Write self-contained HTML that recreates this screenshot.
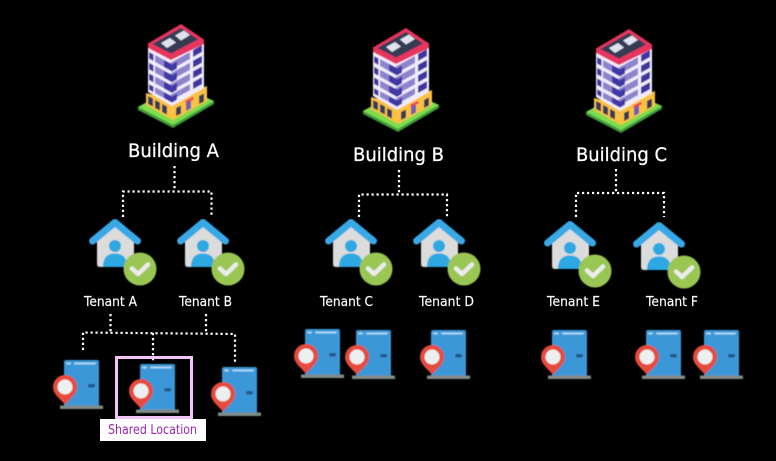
<!DOCTYPE html>
<html lang="en">
<head>
<meta charset="utf-8">
<title>Buildings, tenants and locations</title>
<style>
html,body{margin:0;padding:0;background:#000;width:776px;height:461px;overflow:hidden}
svg{display:block}
text{font-family:"DejaVu Sans","Liberation Sans",sans-serif;fill:#fff}
.b{font-size:19px;stroke:#fff;stroke-width:.25}
.t{font-size:13px;stroke:#fff;stroke-width:.15}
.d{fill:none;stroke:#fff;stroke-width:2.2;stroke-dasharray:2.2 2.8}
</style>
</head>
<body>
<svg width="776" height="461" viewBox="0 0 776 461" xmlns="http://www.w3.org/2000/svg">
<defs>
<filter id="s" x="-5%" y="-5%" width="110%" height="110%"><feGaussianBlur stdDeviation="0.4"/></filter>
<g id="bld" filter="url(#s)">
  <path d="M138 107L178 85L214 101V104L173 128L138 110Z" fill="#3f9a3a"/>
  <path d="M138 107L178 85L214 101L173 125Z" fill="#7ddc4f"/>
  <path d="M146 93L146 105L173 120L207 101V86L173 100Z" fill="#fdc13f"/>
  <path d="M148 43V92L172 106L204 88V40L172 58Z" fill="#f0ecfb"/>
  <g fill="#3f35a0">
    <path d="M149 52l4.500 2.500v6.500l-4.500-2.500z M149 62.700l4.500 2.500v6.500l-4.500-2.500z M149 73.400l4.500 2.500v6.500l-4.500-2.500z M149 84.100l4.500 2.500v5.500l-4.500-2.500z"/>
    <path d="M193 50l9-5v7l-9 5z M193 60.700l9-5v7l-9 5z M193 71.400l9-5v7l-9 5z M193 82.100l9-5v7l-9 5z"/>
  </g>
  <g fill="#8d84cc">
    <path d="M155 55l15 8 20-11v7l-20 11-15-8z"/>
    <path d="M155 65.700l15 8 20-11v7l-20 11-15-8z"/>
    <path d="M155 76.400l15 8 20-11v7l-20 11-15-8z"/>
    <path d="M155 87.100l15 8 20-11v6l-20 11-15-8z"/>
  </g>
  <g fill="#4037a5">
    <path d="M164 60l8 4.500 5-3v7l-5 3-8-4.500z"/>
    <path d="M164 70.700l8 4.500 5-3v7l-5 3-8-4.500z"/>
    <path d="M164 81.400l8 4.500 5-3v7l-5 3-8-4.500z"/>
    <path d="M164 92.100l8 4.500 5-3v6l-5 3-8-4.500z"/>
  </g>
  <path d="M148 43.500L181 24L204 39.500V44L171 60L148 48Z" fill="#e8345f"/>
  <path d="M152.500 44L181 28L198 39.500L171 53.500Z" fill="#363a52"/>
  <path d="M161 43L170 38L176 42.500L167 48Z" fill="#dfe3ee"/>
  <path d="M175 35.500L184 30.500L190 35L181 40.500Z" fill="#dfe3ee"/>
  <g fill="#353a58">
    <path d="M148 96l5 2.500v8l-5-2.500z M155 100l5 2.500v8l-5-2.500z M162 104l5 2.500v8l-5-2.500z"/>
    <path d="M176 108l5-2.500v8l-5 2.500z M199 96l5-2.500v8l-5 2.500z"/>
  </g>
  <path d="M186 103l5-2.500v8l-5 2.500z" fill="#6a5fb0"/>
  <path d="M185 101l8-4 1 2-8 4z" fill="#e8345f"/>
</g>
<g id="home" filter="url(#s)">
  <path d="M97 241L115 226L134 241V264Q134 267 131 267H100Q97 267 97 264Z" fill="#dcdcdc"/>
  <path d="M92.500 241L115 222.500L137.500 241" fill="none" stroke="#39a9e6" stroke-width="7" stroke-linecap="round" stroke-linejoin="round"/>
  <circle cx="115" cy="246" r="6" fill="#2fa8e2"/>
  <path d="M103 267C103 257 108 253.500 115 253.500C122 253.500 127 257 127 267Z" fill="#2fa8e2"/>
  <circle cx="140" cy="269" r="16.500" fill="#9ac653"/>
  <path d="M132 268.500L138 274L148 264.500" fill="none" stroke="#ececec" stroke-width="4.500" stroke-linecap="round" stroke-linejoin="round"/>
</g>
<g id="door" filter="url(#s)">
  <path d="M64 362Q64 360 66 360H97Q99 360 99 362V407H64Z" fill="#3b97d8"/>
  <rect x="60" y="405.500" width="43" height="3.500" fill="#7f8c8a"/>
  <rect x="66" y="362.500" width="5" height="2" rx="1" fill="#a9d4f0"/>
  <rect x="74" y="362.500" width="22" height="2" rx="1" fill="#a9d4f0"/>
  <rect x="88" y="384" width="7" height="3.500" rx="1.700" fill="#24598a"/>
  <path d="M65 405C62 400 53 395 53 387A12 12 0 0 1 77 387C77 395 68 400 65 405Z" fill="#e74c3c"/>
  <circle cx="65" cy="387" r="7.500" fill="#ecf0f1"/>
</g>
</defs>

<rect width="776" height="461" fill="#000"/>

<use href="#bld"/>
<use href="#bld" transform="translate(225 4)"/>
<use href="#bld" transform="translate(448 5)"/>

<text class="b" x="128" y="157" textLength="91" lengthAdjust="spacingAndGlyphs">Building A</text>
<text class="b" x="353" y="161" textLength="91" lengthAdjust="spacingAndGlyphs">Building B</text>
<text class="b" x="576" y="161" textLength="91" lengthAdjust="spacingAndGlyphs">Building C</text>

<path class="d" d="M174.500 166V191M123 217V191.500H211.500V217"/>
<path class="d" d="M399 170V194M359 217V194.500H447V217"/>
<path class="d" d="M616 169V193M576 217V193H664V217"/>

<use href="#home"/>
<use href="#home" transform="translate(88 0)"/>
<use href="#home" transform="translate(236 0)"/>
<use href="#home" transform="translate(324 0)"/>
<use href="#home" transform="translate(455 2)"/>
<use href="#home" transform="translate(544 3)"/>

<text class="t" x="84" y="306" textLength="53" lengthAdjust="spacingAndGlyphs">Tenant A</text>
<text class="t" x="179" y="306" textLength="53" lengthAdjust="spacingAndGlyphs">Tenant B</text>
<text class="t" x="320" y="306" textLength="53" lengthAdjust="spacingAndGlyphs">Tenant C</text>
<text class="t" x="419" y="306" textLength="55" lengthAdjust="spacingAndGlyphs">Tenant D</text>
<text class="t" x="547" y="306" textLength="53" lengthAdjust="spacingAndGlyphs">Tenant E</text>
<text class="t" x="646" y="306" textLength="52" lengthAdjust="spacingAndGlyphs">Tenant F</text>

<path class="d" d="M110.500 314V332M83 350V332.500L235 334V363M153 333V363M206 314V334"/>

<use href="#door"/>
<use href="#door" transform="translate(76 4)"/>
<use href="#door" transform="translate(158 7)"/>
<use href="#door" transform="translate(241 -31)"/>
<use href="#door" transform="translate(292 -30)"/>
<use href="#door" transform="translate(367 -30)"/>
<use href="#door" transform="translate(488 -30)"/>
<use href="#door" transform="translate(582 -30)"/>
<use href="#door" transform="translate(640 -30)"/>

<rect x="116.500" y="357.500" width="75" height="60" fill="none" stroke="#f2c3f7" stroke-width="3"/>
<rect x="100" y="419" width="106" height="22" fill="#fff"/>
<text x="108" y="434" font-size="13" textLength="89" lengthAdjust="spacingAndGlyphs" style="fill:#9c27b0">Shared Location</text>
</svg>
</body>
</html>
